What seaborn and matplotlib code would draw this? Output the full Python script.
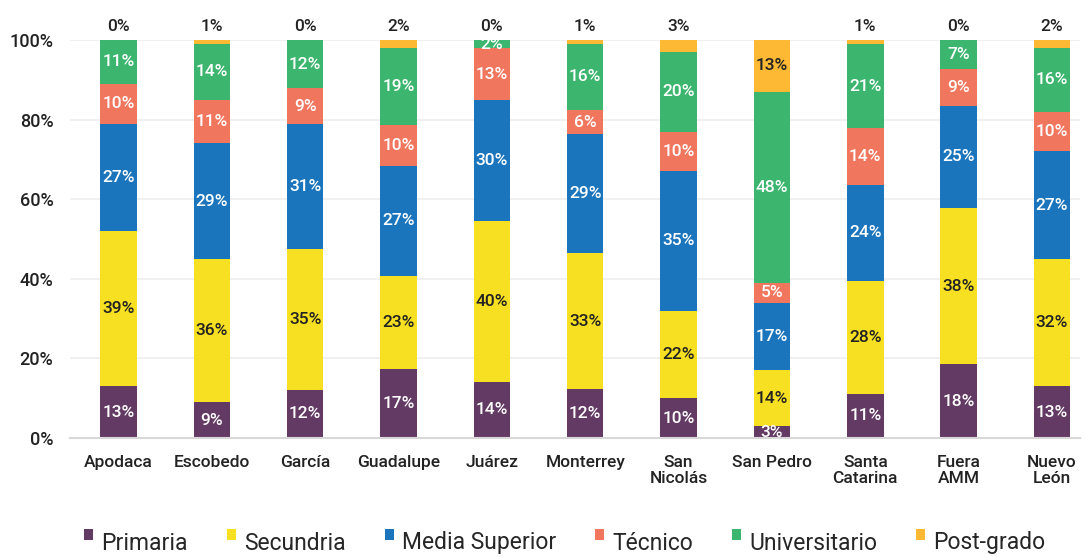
import numpy as np
import pandas as pd
import matplotlib
matplotlib.use("Agg")
import matplotlib.pyplot as plt
import seaborn as sns

categories = ["Apodaca", "Escobedo", "García", "Guadalupe", "Juárez", "Monterrey",
              "San\nNicolás", "San Pedro", "Santa\nCatarina", "Fuera\nAMM", "Nuevo\nLeón"]
series_names = ["Primaria", "Secundria", "Media Superior", "Técnico", "Universitario", "Post-grado"]
primaria       = [13, 9, 12, 17, 14, 12, 10, 3, 11, 18, 13]
secundaria     = [39, 36, 35, 23, 40, 33, 22, 14, 28, 38, 32]
media_superior = [27, 29, 31, 27, 30, 29, 35, 17, 24, 25, 27]
tecnico        = [10, 11, 9, 10, 13, 6, 10, 5, 14, 9, 10]
universitario  = [11, 14, 12, 19, 2, 16, 20, 48, 21, 7, 16]
postgrado      = [0, 1, 0, 2, 0, 1, 3, 13, 1, 0, 2]
y_ticks = [0, 20, 40, 60, 80, 100]

colors = ["#633A63", "#F7DF22", "#1B75BC", "#F1765E", "#3CB66F", "#FDB933"]
label_colors = ["white", "#222222", "white", "white", "white", "#222222"]

sns.set_theme(style="white")
plt.rcParams['font.family'] = ['Roboto', 'DejaVu Sans']

series = [primaria, secundaria, media_superior, tecnico, universitario, postgrado]
vals = np.array(series, dtype=float)
totals = vals.sum(axis=0)
shares = vals / totals * 100

fig = plt.figure(figsize=(10.86, 5.57), dpi=100)
ax = fig.add_axes([70/1086, 1 - 438/557, 1010/1086, 398/557])

bottom = np.zeros(len(categories))
for i, name in enumerate(series_names):
    df = pd.DataFrame({"cat": categories, "val": shares[i]})
    sns.barplot(data=df, x="cat", y="val", bottom=bottom, color=colors[i],
                width=0.39, ax=ax, saturation=1, linewidth=0, label=name)
    for j in range(len(categories)):
        v = vals[i, j]
        h = shares[i, j]
        txt = f"{int(v)}%"
        if i == 5 and v < 5:
            ax.text(j, 103.5, txt, ha="center", va="center", fontsize=12.5,
                    color="#222222", fontweight="medium")
        else:
            ax.text(j, bottom[j] + h / 2, txt, ha="center", va="center", fontsize=12.5,
                    color=label_colors[i], fontweight="medium")
    bottom = bottom + shares[i]

handles, labels = ax.get_legend_handles_labels()
if ax.get_legend() is not None:
    ax.get_legend().remove()

ax.set_xlim(-0.52, 10.3)
ax.set_ylim(0, 100)
ax.set_yticks(y_ticks)
ax.set_yticklabels([f"{t}%" for t in y_ticks])
ax.set_xlabel("")
ax.set_ylabel("")
for t in y_ticks[1:]:
    ax.axhline(t, color="#EEEEEE", lw=1.2, zorder=0)
ax.set_axisbelow(True)
for s in ["top", "right", "left"]:
    ax.spines[s].set_visible(False)
ax.spines["bottom"].set_color("#D8D8D8")
ax.spines["bottom"].set_linewidth(1.5)
ax.tick_params(axis="both", length=0, colors="#222222")
ax.tick_params(axis="y", pad=12, labelsize=13)
ax.tick_params(axis="x", pad=12, labelsize=12.5)
for lbl in ax.get_xticklabels() + ax.get_yticklabels():
    lbl.set_fontweight("medium")
for lbl in ax.get_xticklabels():
    lbl.set_linespacing(1.15)
    lbl.set_verticalalignment("top")

leg = fig.legend(handles, labels, loc="center", bbox_to_anchor=(0.52, 1 - 543/557),
                 ncol=6, frameon=False, fontsize=16.5, handlelength=0.4, handleheight=0.4,
                 handletextpad=0.35, columnspacing=1.7)
for h in leg.legend_handles:
    h.set_y(h.get_y() + 5)

fig.savefig("out.png", dpi=100)
